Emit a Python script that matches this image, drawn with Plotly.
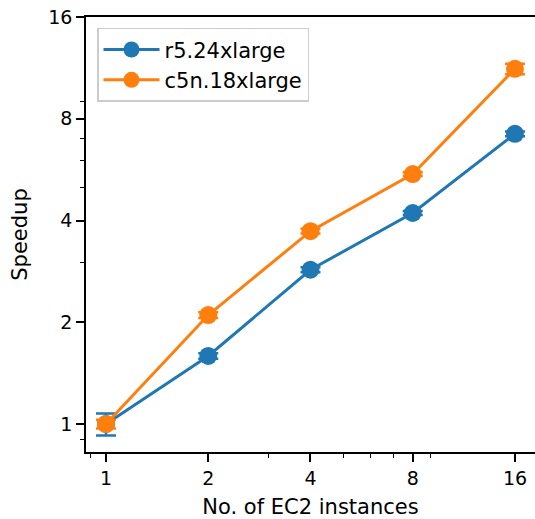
import plotly.graph_objects as go

instances = [1, 2, 4, 8, 16]
r5_speedup = [1.0, 1.59, 2.86, 4.21, 7.22]
r5_err = [0.075, 0.03, 0.05, 0.06, 0.12]
c5n_speedup = [1.0, 2.10, 3.72, 5.49, 11.24]
c5n_err = [0.03, 0.04, 0.06, 0.07, 0.4]
tick_vals = [1, 2, 4, 8, 16]
tick_text = ["1", "2", "4", "8", "16"]
minor_vals = [0.9, 3, 5, 6, 7, 9]

FONT = "DejaVu Sans"
fig = go.Figure()
for name, ys, es, col in [("r5.24xlarge", r5_speedup, r5_err, "#1f77b4"),
                          ("c5n.18xlarge", c5n_speedup, c5n_err, "#ff7f0e")]:
    fig.add_trace(go.Scatter(
        x=instances, y=ys, name=name, mode="lines+markers",
        line=dict(color=col, width=3),
        marker=dict(color=col, size=18),
        error_y=dict(type="data", array=es, visible=True, color=col,
                     thickness=2.5, width=10),
    ))

axis_common = dict(
    type="log", showline=True, linecolor="black", linewidth=1.5,
    ticks="outside", ticklen=8, tickwidth=1.5, tickcolor="black",
    tickmode="array", tickvals=tick_vals, ticktext=tick_text,
    showgrid=False, zeroline=False,
    tickfont=dict(family=FONT, size=19, color="black"),
    minor=dict(tickmode="array", tickvals=minor_vals, ticks="outside",
               ticklen=4.5, tickwidth=1, tickcolor="black", showgrid=False),
)
fig.update_layout(
    width=535, height=519,
    margin=dict(l=86, r=0, t=17, b=67),
    paper_bgcolor="white", plot_bgcolor="white",
    font=dict(family=FONT, size=19, color="black"),
    xaxis=dict(axis_common, range=[-0.0589, 1.2631], mirror=True,
               title=dict(text="No. of EC2 instances", font=dict(family=FONT, size=21), standoff=14)),
    yaxis=dict(axis_common, range=[-0.08284, 1.20413], mirror=False,
               title=dict(text="Speedup", font=dict(family=FONT, size=21), standoff=15)),
    legend=dict(x=0.0245, y=0.975, xanchor="left", yanchor="top",
                bgcolor="rgba(255,255,255,0.8)", bordercolor="#cccccc", borderwidth=1.5,
                font=dict(family=FONT, size=21, color="black"), itemwidth=56,
                tracegroupgap=0),
    showlegend=True,
)
fig.write_html("out.html", config={"displayModeBar": False},
               post_script="document.body.style.margin='0';document.body.style.overflow='hidden';")
